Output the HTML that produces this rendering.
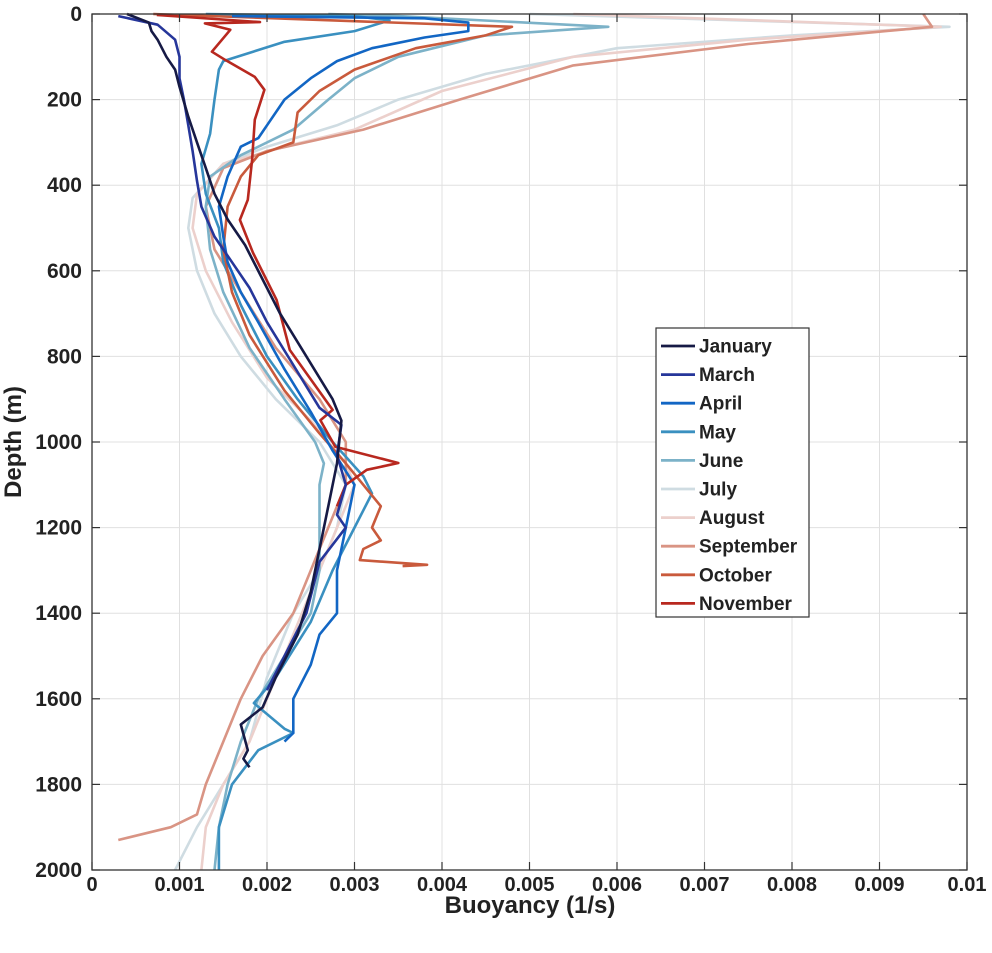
<!DOCTYPE html>
<html><head><meta charset="utf-8"><style>
body{margin:0;background:#fff;}
svg{display:block;font-family:"Liberation Sans",Arial,sans-serif;}
</style></head><body>
<svg id="chart" width="992" height="953">
<g id="grid"></g>
<g id="series"></g>
<rect x="92" y="14" width="875" height="856" fill="none" stroke="#333" stroke-width="1.3"/>
<g id="axes"></g>
<text x="530" y="913" text-anchor="middle" font-size="24" font-weight="bold" fill="#222">Buoyancy (1/s)</text>
<text transform="translate(21,442) rotate(-90)" text-anchor="middle" font-size="24" font-weight="bold" fill="#222">Depth (m)</text>
<g id="legend"></g>
</svg>
<script>
const xTicks=[0,0.001,0.002,0.003,0.004,0.005,0.006,0.007,0.008,0.009,0.01];
const xTickLabels=["0","0.001","0.002","0.003","0.004","0.005","0.006","0.007","0.008","0.009","0.01"];
const yTicks=[0,200,400,600,800,1000,1200,1400,1600,1800,2000];
const months=["January","March","April","May","June","July","August","September","October","November"];
const colors=["#161a45","#26369a","#1266c4","#3a90c0","#7cb2c8","#cfdce2","#ecd0cc","#d99484","#c95a3c","#b8281f"];
// values in units of 0.001 1/s, depth in m
const janX=[0.4,0.65,0.68,0.75,0.85,0.95,1.0,1.1,1.2,1.3,1.4,1.55,1.75,1.95,2.15,2.45,2.75,2.85,2.8,2.7,2.6,2.5,2.35,2.1,1.95,1.7,1.78,1.73,1.8];
const janD=[0,20,40,60,100,130,170,240,300,360,420,480,540,620,700,800,900,950,1050,1150,1250,1350,1450,1550,1620,1660,1720,1740,1760];
const marX=[0.3,0.75,0.95,1.0,1.0,1.05,1.1,1.15,1.2,1.25,1.4,1.6,1.8,2.0,2.3,2.6,2.85,2.8,2.9,2.8,2.9,2.6,2.45,2.2,2.0];
const marD=[5,25,60,100,150,200,260,320,390,450,520,580,640,720,820,920,960,1030,1100,1170,1200,1280,1400,1500,1580];
const aprX=[1.6,3.8,4.3,4.3,3.8,3.2,2.8,2.5,2.2,2.0,1.9,1.7,1.55,1.45,1.5,1.55,1.7,1.9,2.2,2.5,2.75,3.0,2.9,2.8,2.8,2.6,2.5,2.3,2.3,2.2];
const aprD=[5,10,20,40,55,80,110,150,200,260,290,310,380,450,520,580,650,720,830,930,1020,1100,1200,1300,1400,1450,1520,1600,1680,1700];
const mayX=[1.3,3.0,3.4,3.0,2.2,1.5,1.45,1.4,1.35,1.25,1.3,1.45,1.5,1.7,2.0,2.35,2.75,3.1,3.2,3.0,2.75,2.5,2.1,1.85,2.2,2.3,1.9,1.6,1.45,1.45];
const mayD=[0,5,15,40,65,110,130,200,280,350,420,500,580,680,800,900,1000,1080,1120,1200,1300,1420,1550,1610,1670,1680,1720,1800,1900,2000];
const junX=[2.7,3.5,5.9,4.5,3.5,3.0,2.7,2.3,1.7,1.35,1.3,1.35,1.5,1.8,2.2,2.55,2.65,2.6,2.6,2.6,2.5,2.2,1.9,1.7,1.55,1.45,1.4];
const junD=[0,5,30,50,100,150,200,270,330,380,450,550,650,780,900,1000,1050,1100,1200,1300,1400,1500,1600,1700,1800,1900,2000];
const julX=[5.0,9.8,8.0,6.0,4.5,3.5,2.8,2.0,1.5,1.15,1.1,1.2,1.4,1.7,2.1,2.6,2.9,2.8,2.6,2.3,2.0,1.8,1.5,1.2,0.95];
const julD=[0,30,50,80,140,200,260,310,350,430,500,600,700,800,900,1000,1100,1200,1300,1400,1550,1700,1800,1900,2000];
const augX=[5.5,9.7,7.5,5.5,4.0,3.0,2.2,1.5,1.2,1.15,1.3,1.6,2.0,2.5,2.9,3.0,2.7,2.4,2.1,1.8,1.5,1.3,1.25];
const augD=[0,30,60,100,180,270,310,350,420,500,600,720,850,950,1050,1100,1250,1400,1550,1700,1800,1900,2000];
const sepX=[9.5,9.6,7.5,5.5,4.2,3.1,2.0,1.5,1.3,1.4,1.7,2.1,2.6,2.9,2.9,2.6,2.3,1.95,1.7,1.5,1.3,1.2,0.9,0.3];
const sepD=[0,30,70,120,200,270,320,360,450,550,650,780,900,1000,1100,1250,1400,1500,1600,1700,1800,1870,1900,1930];
const octX=[0.7,4.8,4.5,3.7,3.0,2.6,2.35,2.3,1.9,1.7,1.55,1.5,1.6,1.8,2.2,2.6,2.9,3.1,3.3,3.2,3.3,3.1,3.06,3.83,3.55];
const octD=[0,30,50,80,130,180,230,300,330,380,450,550,650,750,880,980,1050,1100,1150,1200,1230,1250,1276,1287,1290];
const novX=[0.74,1.92,1.29,1.58,1.37,1.52,1.86,1.97,1.86,1.83,1.78,1.69,1.84,2.11,2.26,2.75,2.61,2.78,3.5,3.14,2.9,2.8];
const novD=[2,19,22,37,88,107,147,177,247,341,434,481,558,668,785,925,949,1011,1049,1065,1100,1150];
const seriesX=[janX,marX,aprX,mayX,junX,julX,augX,sepX,octX,novX];
const seriesD=[janD,marD,aprD,mayD,junD,julD,augD,sepD,octD,novD];

const L=92,R=967,T=14,B=870;
const xs=v=>L+(v/0.01)*(R-L);
const ys=d=>T+(d/2000)*(B-T);
const NS="http://www.w3.org/2000/svg";
function mk(tag,attrs,parent){const e=document.createElementNS(NS,tag);for(const k in attrs)e.setAttribute(k,attrs[k]);parent.appendChild(e);return e;}
const grid=document.getElementById('grid'),axes=document.getElementById('axes');
xTicks.forEach((t,i)=>{
  const x=xs(t);
  const g=mk('line',{x1:x,x2:x,y1:T,y2:B,stroke:'#e0e0e0','stroke-width':1},grid);
  
  
  const tk=mk('line',{x1:x,x2:x,y1:B,y2:B-8,stroke:'#333','stroke-width':1.2},axes);
  
  
  const tk2=mk('line',{x1:x,x2:x,y1:T,y2:T+8,stroke:'#333','stroke-width':1.2},axes);
  
  
  const lb=mk('text',{x:x,y:891,'text-anchor':'middle','font-size':20,'font-weight':'bold',fill:'#222'},axes);
  lb.textContent=xTickLabels[i];
  
  
});
yTicks.forEach(t=>{
  const y=ys(t);
  const g=mk('line',{x1:L,x2:R,y1:y,y2:y,stroke:'#e0e0e0','stroke-width':1},grid);
  
  
  const tk=mk('line',{x1:L,x2:L+8,y1:y,y2:y,stroke:'#333','stroke-width':1.2},axes);
  
  
  const tk2=mk('line',{x1:R-8,x2:R,y1:y,y2:y,stroke:'#333','stroke-width':1.2},axes);
  
  
  const lb=mk('text',{x:82,y:y+7,'text-anchor':'end','font-size':21,'font-weight':'bold',fill:'#222'},axes);
  lb.textContent=String(t);
  
  
});
const sg=document.getElementById('series');
const order=[5,6,7,4,3,8,2,9,1,0];
order.forEach(i=>{
  const pts=seriesX[i].map((v,j)=>xs(v/1000).toFixed(1)+','+ys(seriesD[i][j]).toFixed(1)).join(' ');
  const p=mk('polyline',{points:pts,fill:'none',stroke:colors[i],'stroke-width':2.6,'stroke-linejoin':'round'},sg);
  
  
});
const lg=document.getElementById('legend');
const box=mk('rect',{x:656,y:328,width:153,height:289,fill:'#fff',stroke:'#333','stroke-width':1.2},lg);


months.forEach((m,i)=>{
  const y=346+i*28.6;
  const ln=mk('line',{x1:661,x2:695,y1:y,y2:y,stroke:colors[i],'stroke-width':2.8},lg);
  
  
  const t=mk('text',{x:699,y:y+6.5,'font-size':19,'font-weight':'bold',fill:'#222'},lg);
  t.textContent=m;
  
  
});
</script>
</body></html>
